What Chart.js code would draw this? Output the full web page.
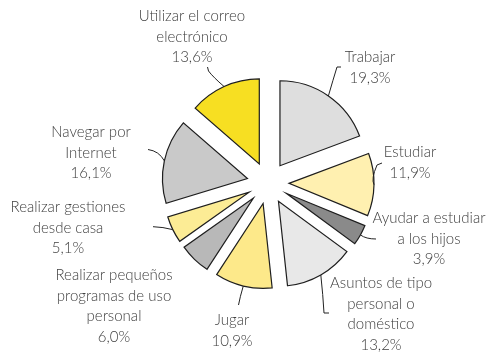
<!DOCTYPE html>
<html lang="es">
<head>
<meta charset="UTF-8">
<title>Usos de Internet</title>
<style>
  body { margin: 0; background: #fff; }
  .grafico { position: relative; width: 487px; height: 354px; }
</style>
<script src="https://cdn.jsdelivr.net/npm/chart.js"></script>
</head>
<body>
<div class="grafico"><canvas id="usosChart"></canvas></div>
<script>
// categorías (partidas en líneas) y porcentajes
const categorias = [
  ['Trabajar'],
  ['Estudiar'],
  ['Ayudar a estudiar', 'a los hijos'],
  ['Asuntos de tipo', 'personal o', 'doméstico'],
  ['Jugar'],
  ['Realizar pequeños', 'programas de uso', 'personal'],
  ['Realizar gestiones', 'desde casa'],
  ['Navegar por', 'Internet'],
  ['Utilizar el correo', 'electrónico']
];
const porcentajes = [19.3, 11.9, 3.9, 13.2, 10.9, 6.0, 5.1, 16.1, 13.6];
const colores = ['#dedede', '#fff0b0', '#8a8a8a', '#e8e8e8', '#fde98a',
                 '#b8b8b8', '#fcec95', '#c9c9c9', '#f7df22'];

// separación de cada porción respecto al centro (px)
const SEPARACION = 21;

// posición de cada rótulo: centro x, y de la primera línea, y trazo de la guía
// guia = [control, final, gancho] ; null = sin guía
const rotulos = [
  { x: 370, y: 57,  guia: [[333, 80], [337, 67], [341, 67]] },
  { x: 410, y: 152, guia: [[371, 179], [377, 165], [382, 163]] },
  { x: 429, y: 218, guia: [[366, 239], [376, 239], null] },
  { x: 381, y: 283, guia: [[323, 295], [324, 313], [329, 313]] },
  { x: 232, y: 320, guia: [[240, 297], [238.5, 305], null] },
  { x: 114, y: 275, guia: null },
  { x: 68,  y: 207, guia: [[163, 227], [153, 226.7], null] },
  { x: 91,  y: 132, guia: [[159, 151], [148, 149.5], null] },
  { x: 192, y: 16,  guia: [[213, 77], [208.5, 71], [207.5, 67]] }
];

const fmt = v => v.toFixed(1).replace('.', ',') + '%';

// desplaza cada porción hacia fuera a lo largo de su ángulo medio
const despiece = {
  id: 'despiece',
  afterDatasetUpdate(chart, args) {
    args.meta.data.forEach(arc => {
      const mid = (arc.startAngle + arc.endAngle) / 2;
      arc.x += Math.cos(mid) * SEPARACION;
      arc.y += Math.sin(mid) * SEPARACION;
    });
  }
};

// guías y textos
const etiquetas = {
  id: 'etiquetas',
  afterDatasetsDraw(chart) {
    const ctx = chart.ctx;
    const arcs = chart.getDatasetMeta(0).data;
    ctx.save();
    ctx.strokeStyle = '#222';
    ctx.lineWidth = 1;
    rotulos.forEach((r, i) => {
      if (!r.guia) return;
      const arc = arcs[i];
      const mid = (arc.startAngle + arc.endAngle) / 2;
      const sx = arc.x + Math.cos(mid) * arc.outerRadius;
      const sy = arc.y + Math.sin(mid) * arc.outerRadius;
      const [c, e, h] = r.guia;
      ctx.beginPath();
      ctx.moveTo(sx, sy);
      ctx.quadraticCurveTo(c[0], c[1], e[0], e[1]);
      if (h) ctx.lineTo(h[0], h[1]);
      ctx.stroke();
    });

    ctx.font = '300 15px Lato, "Open Sans", sans-serif';
    ctx.fillStyle = '#404040';
    ctx.textAlign = 'center';
    ctx.textBaseline = 'middle';
    rotulos.forEach((r, i) => {
      const lineas = categorias[i].concat(fmt(porcentajes[i]));
      lineas.forEach((t, k) => ctx.fillText(t, r.x, r.y + k * 20.7));
    });
    ctx.restore();
  }
};

new Chart(document.getElementById('usosChart'), {
  type: 'pie',
  data: {
    labels: categorias.map(c => c.join(' ')),
    datasets: [{
      data: porcentajes,
      backgroundColor: colores,
      borderColor: '#1e1e1e',
      borderWidth: 1.2,
      borderJoinStyle: 'miter'
    }]
  },
  options: {
    responsive: true,
    maintainAspectRatio: false,
    animation: false,
    events: [],
    radius: 85,
    layout: { padding: { left: 49, right: 0, top: 12, bottom: 0 } },
    plugins: {
      legend: { display: false },
      tooltip: { enabled: false }
    }
  },
  plugins: [despiece, etiquetas]
});
</script>
</body>
</html>
